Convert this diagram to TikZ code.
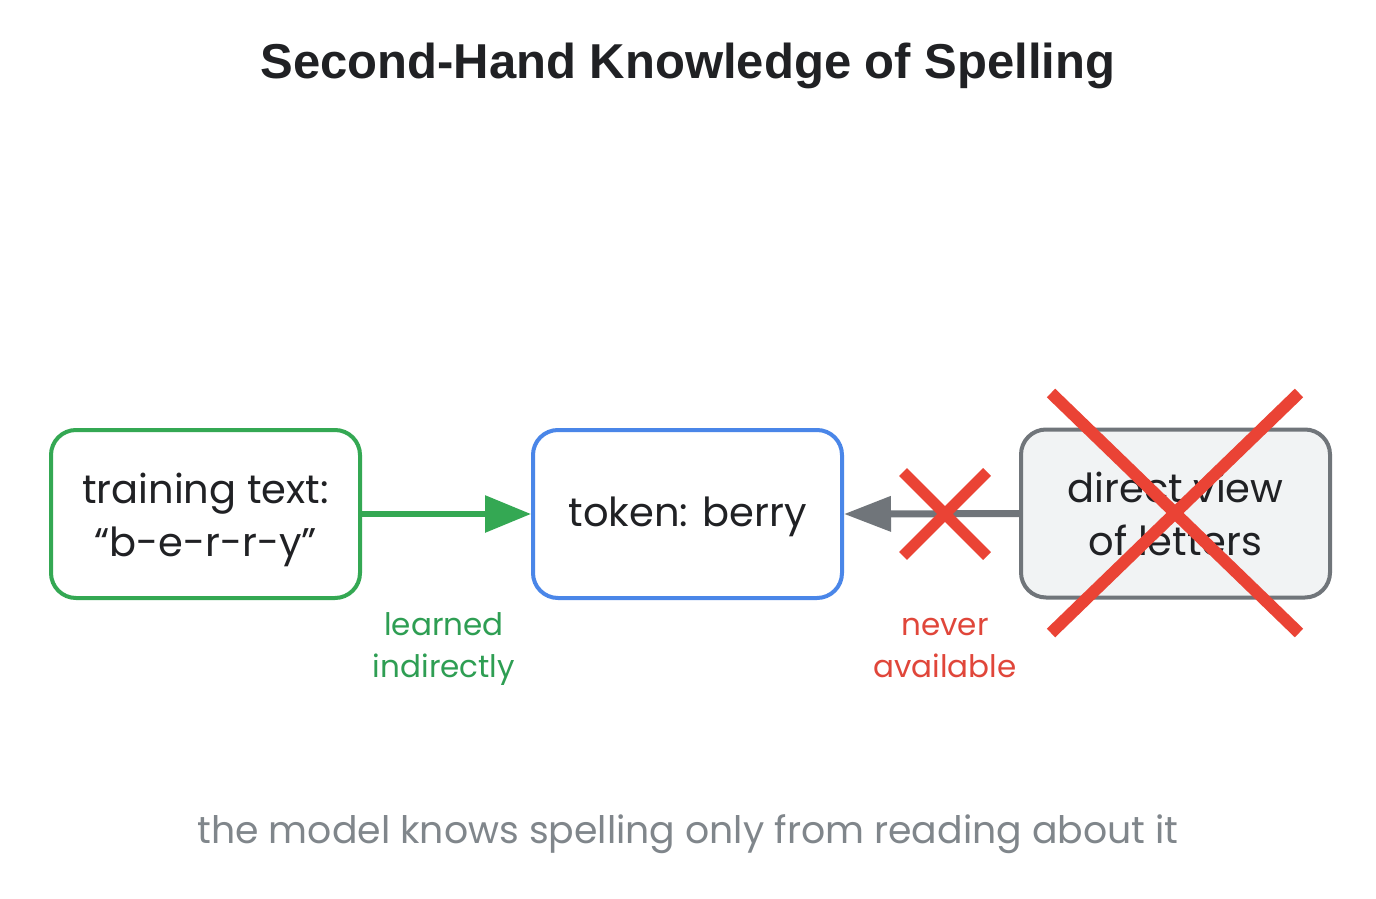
\documentclass[tikz,border=0pt]{standalone}
\usepackage{fontspec}
\setmainfont{Poppins}
\newfontfamily\titlefont{Liberation Sans}
\usetikzlibrary{arrows.meta}
\definecolor{ink}{HTML}{202124}
\definecolor{gGreen}{HTML}{34A853}
\definecolor{gGreenTxt}{HTML}{2E9E53}
\definecolor{gBlue}{HTML}{4A86E8}
\definecolor{gGrey}{HTML}{70757A}
\definecolor{gFill}{HTML}{F1F3F4}
\definecolor{gRed}{HTML}{EA4335}
\definecolor{gRedTxt}{HTML}{E0463A}
\definecolor{gFoot}{HTML}{80868B}
\tikzset{
  box/.style={rounded corners=25pt, line width=4pt, minimum width=309pt, minimum height=168pt,
    align=center, text=ink, inner sep=0pt, font=\fontsize{40}{53}\selectfont},
  lbl/.style={align=center, font=\fontsize{31}{42}\selectfont},
  garrow/.style={draw=gGreen, line width=6pt, -{Triangle[length=46pt,width=36pt]}},
  grarrow/.style={draw=gGrey, line width=7pt, -{Triangle[length=47pt,width=34pt]}},
  cross/.style={draw=gRed, line width=11pt},
  bigcross/.style={draw=gRed, line width=12pt}
}
\begin{document}
\begin{tikzpicture}[x=1pt,y=-1pt]
\useasboundingbox (0,0) rectangle (1376,899);
\fill[white] (0,0) rectangle (1376,899);
\node[anchor=base, text=ink, font=\titlefont\bfseries\fontsize{49}{58}\selectfont] (title) at (688,78) {Second-Hand Knowledge of Spelling};
\node[box, draw=gGreen] (train) at (205.5,514) {\raisebox{-5pt}[\height][\depth]{\begin{tabular}{@{}c@{}}training text:\\“b-e-r-r-y”\end{tabular}}};
\node[box, draw=gBlue] (token) at (687.5,514) {\raisebox{-3pt}[\height][\depth]{token: berry}};
\node[box, draw=gGrey, fill=gFill] (letters) at (1175.5,513.5) {\raisebox{-5pt}[\height][\depth]{\begin{tabular}{@{}c@{}}direct view\\of letters\end{tabular}}};
\draw[garrow] (train.east) -- (token.west);
\draw[grarrow] (letters.west) -- (token.east);
\coordinate (nox) at (945,514);
\draw[cross] ([shift={(-42,-42)}]nox) -- ([shift={(42,42)}]nox);
\draw[cross] ([shift={(42,-42)}]nox) -- ([shift={(-42,42)}]nox);
\coordinate (bigx) at (1175,513);
\draw[bigcross] ([shift={(-124,-120)}]bigx) -- ([shift={(124,120)}]bigx);
\draw[bigcross] ([shift={(124,-120)}]bigx) -- ([shift={(-124,120)}]bigx);
\node[lbl, text=gGreenTxt, anchor=base] (lbllearn) at (444,677) {learned\\indirectly};
\node[lbl, text=gRedTxt, anchor=base] (lblnever) at (945,677) {never\\available};
\node[anchor=base, text=gFoot, font=\fontsize{37.8}{46}\selectfont] (foot) at (688,843) {the model knows spelling only from reading about it};
\end{tikzpicture}
\end{document}
